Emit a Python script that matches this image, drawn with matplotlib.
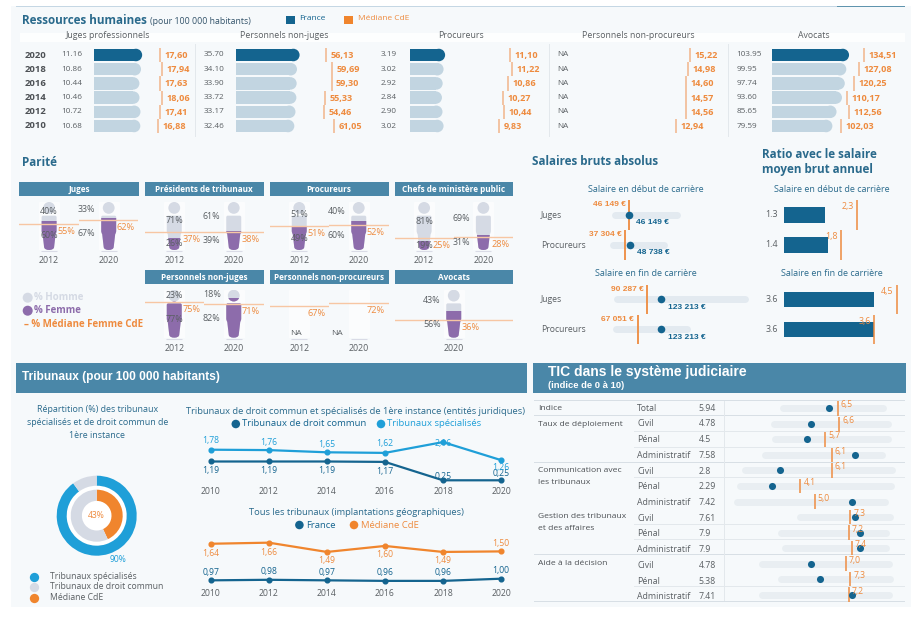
#!/usr/bin/env python3
"""Justice dashboard: ressources humaines, parite, salaires, tribunaux, TIC."""
import matplotlib
matplotlib.use("Agg")
import matplotlib.pyplot as plt
import numpy as np
from matplotlib.patches import Circle, PathPatch, Rectangle
from matplotlib.path import Path
from matplotlib.transforms import Affine2D

W, H = 923, 625
PANEL = "#f6f9fb"
BLUE = "#14648f"
PALE = "#c2d5e1"
TEAL = "#4a87a8"
ORANGE = "#ee8b3f"
ORANGE_FILL = "#f0852d"
TICK_OR = "#f2b48a"
SKY = "#1f9fd8"
GRAY = "#5a5f63"
HOMME = "#d5dae4"
FEMME = "#8d6cab"
TITLE = "#2a6a8c"
TRACK = "#e3eaf0"

plt.rcParams["font.family"] = ["Open Sans", "DejaVu Sans"]

# ressources humaines
years_rh = ["2020", "2018", "2016", "2014", "2012", "2010"]
juges_fr = [11.16, 10.86, 10.44, 10.46, 10.72, 10.68]
juges_med = [17.60, 17.94, 17.63, 18.06, 17.41, 16.88]
nonjuges_fr = [35.70, 34.10, 33.90, 33.72, 33.17, 32.46]
nonjuges_med = [56.13, 59.69, 59.30, 55.33, 54.46, 61.05]
proc_fr = [3.19, 3.02, 2.92, 2.84, 2.90, 3.02]
proc_med = [11.10, 11.22, 10.86, 10.27, 10.44, 9.83]
nonproc_med = [15.22, 14.98, 14.60, 14.57, 14.56, 12.94]
avocats_fr = [103.95, 99.95, 97.74, 93.60, 85.65, 79.59]
avocats_med = [134.51, 127.08, 120.25, 110.17, 112.56, 102.03]

# parite: [2012, 2020]
p_juges_h, p_juges_f, p_juges_m = [40, 33], [60, 67], [55, 62]
p_pres_h, p_pres_f, p_pres_m = [71, 61], [26, 39], [37, 38]
p_proc_h, p_proc_f, p_proc_m = [51, 40], [49, 60], [51, 52]
p_chefs_h, p_chefs_f, p_chefs_m = [81, 69], [19, 31], [25, 28]
p_nj_h, p_nj_f, p_nj_m = [23, 18], [77, 82], [75, 71]
p_np_m = [67, 72]
p_avo_h, p_avo_f, p_avo_m = [43], [56], [36]

# salaires
sal_rows = ["Juges", "Procureurs"]
deb_fr = [46149, 48738]
deb_med = [46149, 37304]
deb_min = [13500, 8800]
deb_max = [159700, 129300]
fin_fr = [123213, 123213]
fin_med = [90287, 67051]
fin_min = [18300, 15900]
fin_max = [323100, 183400]
ratio_deb_fr = [1.3, 1.4]
ratio_deb_med = [2.3, 1.8]
ratio_fin_fr = [3.6, 3.6]
ratio_fin_med = [4.5, 3.6]

# tribunaux
years_trib = [2010, 2012, 2014, 2016, 2018, 2020]
trib_spec = [1.78, 1.76, 1.65, 1.62, 2.16, 1.26]
trib_commun = [1.19, 1.19, 1.19, 1.17, 0.25, 0.25]
trib_france = [0.97, 0.98, 0.97, 0.96, 0.96, 1.00]
trib_mediane = [1.64, 1.66, 1.49, 1.60, 1.49, 1.50]
donut_spec = [90, 10]
donut_med = [43, 57]

# TIC
tic_cat = ["Total", "Civil", "Pénal", "Administratif", "Civil", "Pénal", "Administratif",
           "Civil", "Pénal", "Administratif", "Civil", "Pénal", "Administratif"]
tic_txt = ["5.94", "4.78", "4.5", "7.58", "2.8", "2.29", "7.42", "7.61", "7.9", "7.9", "4.78", "5.38", "7.41"]
tic_val = [5.94, 4.78, 4.5, 7.58, 2.8, 2.29, 7.42, 7.61, 7.9, 7.9, 4.78, 5.38, 7.41]
tic_med = [6.5, 6.6, 5.7, 6.1, 6.1, 4.1, 5.0, 7.3, 7.2, 7.4, 7.0, 7.3, 7.2]
tic_min = [2.95, 2.41, 2.45, 1.84, 0.53, 0.25, 0.0, 4.1, 2.86, 3.09, 1.64, 2.84, 1.62]
tic_max = [9.42, 9.69, 9.69, 9.35, 10.0, 9.94, 9.5, 9.83, 9.58, 9.58, 9.8, 9.83, 9.8]

fig = plt.figure(figsize=(W / 100, H / 100), dpi=100, facecolor="white")


def px_axes(x0, y0, x1, y1):
    ax = fig.add_axes([x0 / W, 1 - y1 / H, (x1 - x0) / W, (y1 - y0) / H], zorder=1)
    ax.axis("off")
    return ax


def lab(ax, x, y, s, dx=0, dy=0, **kw):
    kw.setdefault("va", "center")
    kw.setdefault("annotation_clip", False)
    ax.annotate(s, (x, y), xytext=(dx, -dy), textcoords="offset pixels", **kw)


bg = fig.add_axes([0, 0, 1, 1], zorder=0)
bg.set_xlim(0, W)
bg.set_ylim(H, 0)
bg.axis("off")


def txt(x, y, s, size=6.3, color=GRAY, **kw):
    kw.setdefault("va", "center")
    bg.text(x, y, s, fontsize=size, color=color, **kw)


def rect(x0, y0, x1, y1, color, **kw):
    bg.add_patch(Rectangle((x0, y0), x1 - x0, y1 - y0, fc=color, ec="none", **kw))


rect(11, 6, 911, 607, PANEL)
rect(16, 5.6, 905, 6.8, "#c5d7e4")
rect(837, 5.6, 905, 6.8, "#5f94ae")

# --- ressources humaines ---
txt(22, 21, "Ressources humaines", 8.4, TITLE, fontweight="bold")
txt(150, 21.5, "(pour 100 000 habitants)", 6.3, "#33536a")
rect(286, 15.5, 295, 24, BLUE)
txt(299, 19, "France", 6, BLUE)
rect(344, 15.5, 353, 24, ORANGE_FILL)
txt(358, 19, "Médiane CdE", 6, ORANGE)
rect(20, 32.5, 905, 41.5, "#fdfefe")
for cx, name in [(108, "Juges professionnels"), (284, "Personnels non-juges"), (461, "Procureurs"),
                 (638, "Personnels non-procureurs"), (814, "Avocats")]:
    txt(cx, 36, name, 6.3, GRAY, ha="center")
for sep in (195, 549, 728):
    rect(sep - 0.5, 44, sep + 0.5, 137, "#e3e8ec")
for i, y in enumerate(years_rh):
    txt(35.5, 55 + i * 14.2, y, 6.8, "#4d5155", ha="center", fontweight="bold")

rh_cols = [(juges_fr, juges_med, 93.5, 3.8, 61.7), (nonjuges_fr, nonjuges_med, 235.5, 1.62, 203.3),
           (proc_fr, proc_med, 410, 9.05, 380.7), ([np.nan] * 6, nonproc_med, 601, 5.83, 557.7),
           (avocats_fr, avocats_med, 771.7, 0.684, 736.7)]
for fr, med, x0, scale, xlab in rh_cols:
    ax = px_axes(x0, 47.9, x0 + 130, 133.1)
    ax.set_xlim(0, 130 / scale)
    ax.set_ylim(5.5, -0.5)
    rows = np.arange(6)
    cols = [BLUE] + [PALE] * 5
    ax.barh(rows, fr, height=0.88, color=cols)
    ax.scatter(fr, rows, s=81, c=cols, linewidths=0, clip_on=False)
    ax.vlines(med, rows - 0.5, rows + 0.5, color=TICK_OR, lw=1.1)
    for r, (a, b) in enumerate(zip(fr, med)):
        lab(ax, b, r, f"{b:.2f}".replace(".", ","), dx=4.5, dy=0.5, fontsize=6.6, color=ORANGE,
            fontweight="bold")
        s = "NA" if np.isnan(a) else f"{a:.2f}"
        txt(xlab, 55 + r * 14.2, s, 5.9, GRAY)

# --- parite ---
txt(22, 162, "Parité", 8.4, TITLE, fontweight="bold")
head = Path.circle().transformed(Affine2D().scale(5.9, 12.3).translate(0, 87.7))
C3 = Path.CURVE3
body_v = [(-6, 71.5), (6, 71.5), (7.5, 71.5), (7.5, 68), (7.5, 40), (7.5, 36), (6.5, 33), (5, 6),
          (4.6, 0), (0, 0), (-4.6, 0), (-5, 6), (-6.5, 33), (-7.5, 36), (-7.5, 40), (-7.5, 68),
          (-7.5, 71.5), (-6, 71.5), (-6, 71.5)]
body_c = [Path.MOVETO, Path.LINETO, C3, C3, Path.LINETO, C3, C3, Path.LINETO, C3, C3, C3, C3,
          Path.LINETO, C3, C3, Path.LINETO, C3, C3, Path.CLOSEPOLY]
person = Path.make_compound_path(head, Path(body_v, body_c))

par_panels = [
    ("Juges", 19.3, 138.5, 182, 250, ["2012", "2020"], p_juges_h, p_juges_f, p_juges_m),
    ("Présidents de tribunaux", 144.5, 263.5, 182, 250, ["2012", "2020"], p_pres_h, p_pres_f, p_pres_m),
    ("Procureurs", 269.5, 388.5, 182, 250, ["2012", "2020"], p_proc_h, p_proc_f, p_proc_m),
    ("Chefs de ministère public", 394.5, 513, 182, 250, ["2012", "2020"], p_chefs_h, p_chefs_f, p_chefs_m),
    ("Personnels non-juges", 144.5, 263.5, 270, 337.7, ["2012", "2020"], p_nj_h, p_nj_f, p_nj_m),
    ("Personnels non-procureurs", 269.5, 388.5, 270, 337.7, ["2012", "2020"], None, None, p_np_m),
    ("Avocats", 394.5, 513, 270, 337.7, ["2020"], p_avo_h, p_avo_f, p_avo_m),
]
for name, x0, x1, top, base, yrs, hom, fem, med in par_panels:
    rect(x0, top, x1, top + 14.3, TEAL)
    txt((x0 + x1) / 2, top + 7.2, name, 5.9, "white", ha="center", fontweight="bold")
    step = (x1 - x0) / len(yrs)
    for k, yr in enumerate(yrs):
        ax = px_axes(x0 + k * step, base - 48, x0 + (k + 1) * step, base)
        ax.set_xlim(-step / 2, step / 2)
        ax.set_ylim(0, 100)
        ax.axvspan(-10, 10, color="#fbfcfd", zorder=0)
        ax.hlines(-2, -8, 8, color="#d9dbe6", lw=0.8, clip_on=False)
        first = k == 0 and len(yrs) == 2
        if hom is not None:
            sil = PathPatch(person, fc=HOMME, ec="none", transform=ax.transData, zorder=1)
            ax.add_patch(sil)
            bar = ax.bar(0, fem[k], width=20, color=FEMME, zorder=2)[0]
            bar.set_clip_path(sil)
            xl = 0 if first else -22
            lab(ax, xl, fem[k] + hom[k] / 2, f"{hom[k]}%", fontsize=6.4, color=GRAY, ha="center", zorder=5)
            lab(ax, xl, fem[k] / 2, f"{fem[k]}%", fontsize=6.4, color=GRAY, ha="center", zorder=5)
        else:
            lab(ax, -3 if first else -22, 8.5, "NA", fontsize=6, color=GRAY, ha="center")
        ax.axhline(med[k], color="#f7c6a3", lw=1.0, zorder=3)
        lab(ax, 17, med[k], f"{med[k]}%", dy=7.5, fontsize=6.6, color=ORANGE, ha="center", zorder=5)
        txt(x0 + (k + 0.5) * step, base + 10.8, yr, 6.3, GRAY, ha="center")

bg.scatter([27.7, 27.7], [297.7, 310.7], s=52, c=[HOMME, FEMME], linewidths=0)
txt(34.5, 297.7, "% Homme", 7, HOMME, fontweight="bold")
txt(34.5, 310.7, "% Femme", 7, FEMME, fontweight="bold")
txt(24, 324.7, "– % Médiane Femme CdE", 7, ORANGE, fontweight="bold")

# --- salaires ---
txt(531.7, 161.7, "Salaires bruts absolus", 8.4, TITLE, fontweight="bold")
txt(761.7, 154, "Ratio avec le salaire", 8.4, TITLE, fontweight="bold")
txt(761.7, 170, "moyen brut annuel", 8.4, TITLE, fontweight="bold")
for y, s in [(189.7, "Salaire en début de carrière"), (273.7, "Salaire en fin de carrière")]:
    txt(646.3, y, s, 6.5, TITLE, ha="center")
    txt(832.3, y, s, 6.5, TITLE, ha="center")

sal_blocks = [(200, deb_fr, deb_med, deb_min, deb_max, ratio_deb_fr, ratio_deb_med, 31.7),
              (284.4, fin_fr, fin_med, fin_min, fin_max, ratio_fin_fr, ratio_fin_med, 25.0)]
for top, fr, med, lo, hi, r_fr, r_med, r_scale in sal_blocks:
    ax = px_axes(609.5, top, 759.5, top + 60)
    ax.set_xlim(0, 150 / 0.00042)
    ax.set_ylim(1.5, -0.5)
    rows = np.arange(2)
    ax.hlines(rows, lo, hi, color=TRACK, lw=5, capstyle="round")
    ax.vlines(med, rows - 0.49, rows + 0.49, color=ORANGE, lw=1.3, zorder=3)
    ax.scatter(fr, rows, s=30, color=BLUE, linewidths=0, zorder=4)
    for r in rows:
        txt(541, top + 15 + 30 * r, sal_rows[r], 6.2, GRAY)
        lab(ax, med[r], r, f"{med[r]:,} €".replace(",", " "), dx=-3.5, dy=-10, ha="right", fontsize=6,
            color=ORANGE, fontweight="bold", family="Liberation Sans")
        lab(ax, fr[r], r, f"{fr[r]:,} €".replace(",", " "), dx=7, dy=8, fontsize=6, color=BLUE,
            fontweight="bold", family="Liberation Sans")

    ax = px_axes(784, top, 914, top + 60)
    ax.set_xlim(0, 130 / r_scale)
    ax.set_ylim(1.5, -0.5)
    ax.barh(rows, r_fr, height=0.52, color=BLUE)
    ax.vlines(r_med, rows - 0.49, rows + 0.49, color=ORANGE, lw=1.1, zorder=3)
    for r in rows:
        lab(ax, 0, r, f"{r_fr[r]}", dx=-6, ha="right", fontsize=6.4, color=GRAY)
        lab(ax, r_med[r], r, f"{r_med[r]}".replace(".", ","), dx=-3, dy=-8, ha="right", fontsize=6.4,
            color=ORANGE, zorder=5)

# --- tribunaux ---
rect(16, 362.5, 527, 393, TEAL)
txt(22, 377, "Tribunaux (pour 100 000 habitants)", 8.6, "white", fontweight="bold", family="Liberation Sans")
for i, s in enumerate(["Répartition (%) des tribunaux", "spécialisés et de droit commun de", "1ère instance"]):
    txt(97.3, 410 + i * 12.5, s, 6.4, TITLE, ha="center")

ax = px_axes(54.7, 473.7, 138.7, 557.7)
ax.add_patch(Circle((0, 0), 0.75, fc="white", ec="none"))
ax.pie(donut_spec, radius=1.0, startangle=90, counterclock=False, colors=[SKY, HOMME],
       wedgeprops=dict(width=0.25))
ax.pie(donut_med, radius=0.65, startangle=90, counterclock=False, colors=[ORANGE_FILL, HOMME],
       wedgeprops=dict(width=0.28))
ax.set_xlim(-1.05, 1.05)
ax.set_ylim(-1.05, 1.05)
ax.text(0, 0, f"{donut_med[0]}%", fontsize=6.2, color=ORANGE, ha="center", va="center", zorder=5)
txt(118, 559, f"{donut_spec[0]}%", 6.2, SKY, ha="center")
for y, s, c in [(576.7, "Tribunaux spécialisés", SKY), (586.7, "Tribunaux de droit commun", HOMME),
                (597.7, "Médiane CdE", ORANGE_FILL)]:
    bg.scatter([34], [y], s=45, c=c, linewidths=0)
    txt(49.7, y, s, 6.2, GRAY)

txt(356, 411.5, "Tribunaux de droit commun et spécialisés de 1ère instance (entités juridiques)", 6.75, TITLE,
    ha="center")
bg.scatter([235.8, 381], [424, 424], s=38, c=[BLUE, SKY], linewidths=0)
txt(242, 424, "Tribunaux de droit commun", 6.8, BLUE)
txt(387, 424, "Tribunaux spécialisés", 6.8, SKY)
txt(356, 512.7, "Tous les tribunaux (implantations géographiques)", 6.75, TITLE, ha="center")
bg.scatter([299.4, 354], [525, 525], s=38, c=[BLUE, ORANGE_FILL], linewidths=0)
txt(305.8, 525, "France", 6.8, BLUE)
txt(361, 525, "Médiane CdE", 6.8, ORANGE)

spec_dy = [-9, -8, -8, -9, 1, 7]
commun_dy = [9, 9, 9, 10, -4, -7]
med_dy = [9.5, 9.5, 9, 9, 9, -8]
fr_dy = [-8, -8, -8, -8, -8, -8]


def trib_axes(y0, y1, v0, scale):
    ax = px_axes(195, y0, 516, y1)
    ax.axis("on")
    ax.patch.set_visible(False)
    for sp in ax.spines.values():
        sp.set_visible(False)
    ax.set_xlim(2010 - 15.8 / 29, 2020 + 15 / 29)
    ax.set_ylim(v0, v0 + (y1 - y0) / scale)
    ax.set_yticks([])
    ax.set_xticks(years_trib)
    ax.tick_params(axis="x", length=0, pad=1, labelsize=6.2, labelcolor=GRAY)
    return ax


def trib_line(ax, vals, color, dys, label_color):
    ax.plot(years_trib, vals, "-o", color=color, lw=1.6, ms=3.4, clip_on=False)
    for x, v, dy in zip(years_trib, vals, dys):
        lab(ax, x, v, f"{v:.2f}".replace(".", ","), dy=dy, ha="center", fontsize=6.2, color=label_color)


ax = trib_axes(430, 486, (485.3 - 486) / 20, 20)
trib_line(ax, trib_commun, BLUE, commun_dy, BLUE)
trib_line(ax, trib_spec, SKY, spec_dy, SKY)
ax = trib_axes(535, 587.5, (633.3 - 587.5) / 54.6, 54.6)
trib_line(ax, trib_france, BLUE, fr_dy, BLUE)
trib_line(ax, trib_mediane, ORANGE_FILL, med_dy, ORANGE)

# --- TIC ---
rect(533.3, 362.5, 905.7, 393, TEAL)
txt(548, 371.7, "TIC dans le système judiciaire", 10, "white", fontweight="bold", family="Liberation Sans")
txt(548, 385.7, "(indice de 0 à 10)", 6.8, "white", fontweight="bold", family="Liberation Sans")
group_lines = [400.7, 415.7, 462.3, 509, 554.7, 601.7]
sub_lines = [431.3, 447.3, 477.7, 493, 524.3, 539.3, 571, 586.3]
for y in group_lines:
    rect(534, y - 0.4, 905, y + 0.4, "#d8dfe5")
for y in sub_lines:
    rect(634, y - 0.4, 905, y + 0.4, "#e3e8ec")
rect(724.4, 401, 725, 601, "#e3e8ec")
for y, s in [(408.3, "Indice"), (424.3, "Taux de déploiement"), (470.3, "Communication avec"),
             (482, "les tribunaux"), (517, "Gestion des tribunaux"), (528.3, "et des affaires"),
             (563.3, "Aide à la décision")]:
    txt(538, y, s, 6.1, "#4d5155")

ax = px_axes(736.6, 400.5, 892.4, 602.5)
ax.set_xlim(0, 10)
ax.set_ylim(12.5, -0.5)
rows = np.arange(13)
ax.hlines(rows, tic_min, tic_max, color="#e9eef2", lw=5, capstyle="round", clip_on=False)
ax.vlines(tic_med, rows - 0.47, rows + 0.47, color="#ee9550", lw=1.2, zorder=3)
ax.scatter(tic_val, rows, s=26, color=BLUE, linewidths=0, zorder=4, clip_on=False)
for r in rows:
    y = 408.3 + r * 15.7
    txt(637, y, tic_cat[r], 6.3, GRAY)
    txt(698.7, y, tic_txt[r], 6.3, GRAY)
    lab(ax, tic_med[r], r, f"{tic_med[r]}".replace(".", ","), dx=3, dy=-3.5, fontsize=6.2, color=ORANGE,
        zorder=5)

fig.savefig("out.png", dpi=100, facecolor="white")
